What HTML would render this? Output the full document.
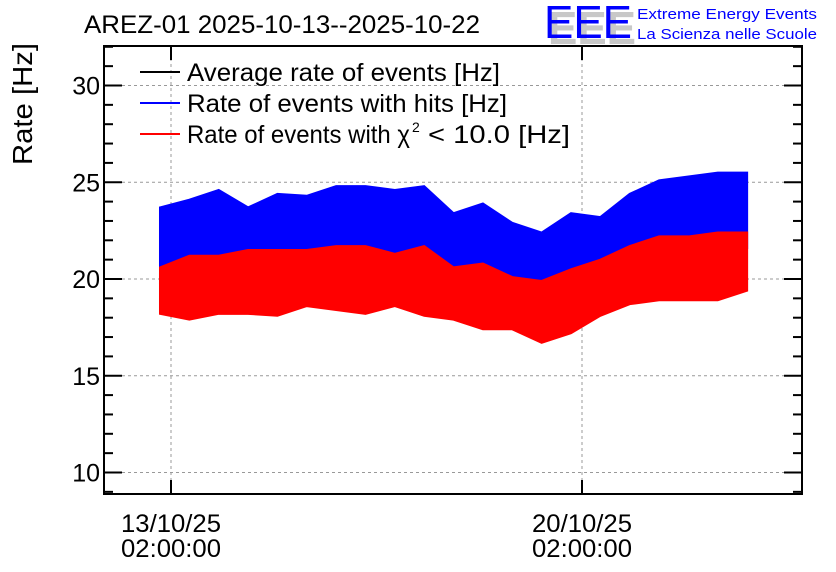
<!DOCTYPE html>
<html><head><meta charset="utf-8"><style>
body{margin:0;background:#fff;}
svg{display:block;font-family:"Liberation Sans",Arial,sans-serif;}
</style></head><body>
<svg id="c" width="836" height="572" viewBox="0 0 836 572">
<rect width="836" height="572" fill="#fff"/>
<text x="84" y="33" font-size="25" fill="#000" textLength="396" lengthAdjust="spacingAndGlyphs">AREZ-01 2025-10-13--2025-10-22</text>
<g>
<text x="548" y="44" font-size="46" fill="#c8c8c8" font-weight="bold" textLength="88" lengthAdjust="spacingAndGlyphs">EEE</text>
<text x="544" y="38" font-size="46" fill="#0000ff" textLength="88" lengthAdjust="spacingAndGlyphs">EEE</text>
<text x="637" y="19" font-size="15" fill="#0000ff" textLength="180" lengthAdjust="spacingAndGlyphs">Extreme Energy Events</text>
<text x="637" y="39" font-size="15" fill="#0000ff" textLength="180" lengthAdjust="spacingAndGlyphs">La Scienza nelle Scuole</text>
</g>
<text transform="translate(32,104) rotate(-90)" text-anchor="middle" font-size="28" textLength="122" lengthAdjust="spacingAndGlyphs">Rate [Hz]</text>
<g id="grid"></g>
<g id="series"></g>
<g id="axes"></g>
<g>
<g><line x1="140" y1="72" x2="180" y2="72" stroke="#000" stroke-width="2"/><text x="187" y="81" font-size="25" textLength="313" lengthAdjust="spacingAndGlyphs">Average rate of events [Hz]</text></g>
<g><line x1="140" y1="103" x2="180" y2="103" stroke="#0000ff" stroke-width="2"/><text x="187" y="112" font-size="25" textLength="320" lengthAdjust="spacingAndGlyphs">Rate of events with hits [Hz]</text></g>
<g><line x1="140" y1="134" x2="180" y2="134" stroke="#ff0000" stroke-width="2"/><text x="187" y="143" font-size="25" textLength="223" lengthAdjust="spacingAndGlyphs">Rate of events with χ</text><text x="412" y="132" font-size="14">2</text><text x="428" y="143" font-size="25" textLength="142" lengthAdjust="spacingAndGlyphs">&lt; 10.0 [Hz]</text></g>
</g>
</svg>
<script>
const hours=[-4.5,7.5,19.5,31.5,43.5,55.5,67.5,79.5,91.5,103.5,115.5,127.5,139.5,151.5,163.5,175.5,187.5,199.5,211.5,223.5,235.5];
const blueHigh=[23.7,24.1,24.6,23.7,24.4,24.3,24.8,24.8,24.6,24.8,23.4,23.9,22.9,22.4,23.4,23.2,24.4,25.1,25.3,25.5,25.5];
const blueLow=[19.8,20.4,20.4,20.7,20.7,20.7,20.9,20.9,20.5,20.9,19.8,20.0,19.3,19.1,19.7,20.2,20.9,21.4,21.4,21.6,21.6];
const redHigh=[20.6,21.2,21.2,21.5,21.5,21.5,21.7,21.7,21.3,21.7,20.6,20.8,20.1,19.9,20.5,21.0,21.7,22.2,22.2,22.4,22.4];
const redLow=[18.2,17.9,18.2,18.2,18.1,18.6,18.4,18.2,18.6,18.1,17.9,17.4,17.4,16.7,17.2,18.1,18.7,18.9,18.9,18.9,19.4];
const yTicks=[10,15,20,25,30];
const xTickHours=[0,168];
const xTickDates=["13/10/25","20/10/25"];
const xTickTimes=["02:00:00","02:00:00"];

const L=104,R=802,T=46,B=494;
const X=h=>171+h*(411/168);
const Y=v=>279-(v-20)*19.35;
const NS="http://www.w3.org/2000/svg";
function mk(tag,attrs,parent){const e=document.createElementNS(NS,tag);for(const k in attrs)e.setAttribute(k,attrs[k]);parent.appendChild(e);return e;}
const grid=document.getElementById('grid'),ser=document.getElementById('series'),ax=document.getElementById('axes');
yTicks.forEach(v=>{const g=mk('line',{x1:L,x2:R,y1:Y(v),y2:Y(v),stroke:'#999','stroke-dasharray':'3,3','stroke-width':1},grid);

});
xTickHours.forEach(h=>{const g=mk('line',{x1:X(h),x2:X(h),y1:T,y2:B,stroke:'#999','stroke-dasharray':'3,3','stroke-width':1},grid);

});
function band(hi,lo,col,name){
 let pts=[];
 hours.forEach((h,i)=>pts.push(X(h)+','+Y(hi[i])));
 for(let i=hours.length-1;i>=0;i--)pts.push(X(hours[i])+','+Y(lo[i]));
 const p=mk('polygon',{points:pts.join(' '),fill:col,stroke:col,'stroke-width':2},ser);
 
 
}
band(blueHigh,blueLow,'#0000ff','series-hits');
band(redHigh,redLow,'#ff0000','series-chi2');
const fr=mk('rect',{x:L,y:T,width:R-L,height:B-T,fill:'none',stroke:'#000','stroke-width':2},ax);


for(let v=9;v<=32;v++){const len=(v%5===0)?18:9;
 mk('line',{x1:L,x2:L+len,y1:Y(v),y2:Y(v),stroke:'#000','stroke-width':2},ax);
 mk('line',{x1:R-len,x2:R,y1:Y(v),y2:Y(v),stroke:'#000','stroke-width':2},ax);}
yTicks.forEach(v=>{const t=mk('text',{x:L-4,y:Y(v)+9,'text-anchor':'end','font-size':25},ax);t.textContent=v;

});
xTickHours.forEach((h,i)=>{
 mk('line',{x1:X(h),x2:X(h),y1:B-14,y2:B,stroke:'#000','stroke-width':2},ax);
 mk('line',{x1:X(h),x2:X(h),y1:T,y2:T+14,stroke:'#000','stroke-width':2},ax);
 const t1=mk('text',{x:X(h),y:532,'text-anchor':'middle','font-size':25,textLength:100,lengthAdjust:'spacingAndGlyphs'},ax);t1.textContent=xTickDates[i];
 
 
 const t2=mk('text',{x:X(h),y:557,'text-anchor':'middle','font-size':25,textLength:100,lengthAdjust:'spacingAndGlyphs'},ax);t2.textContent=xTickTimes[i];
 
 
});
</script>
</body></html>
